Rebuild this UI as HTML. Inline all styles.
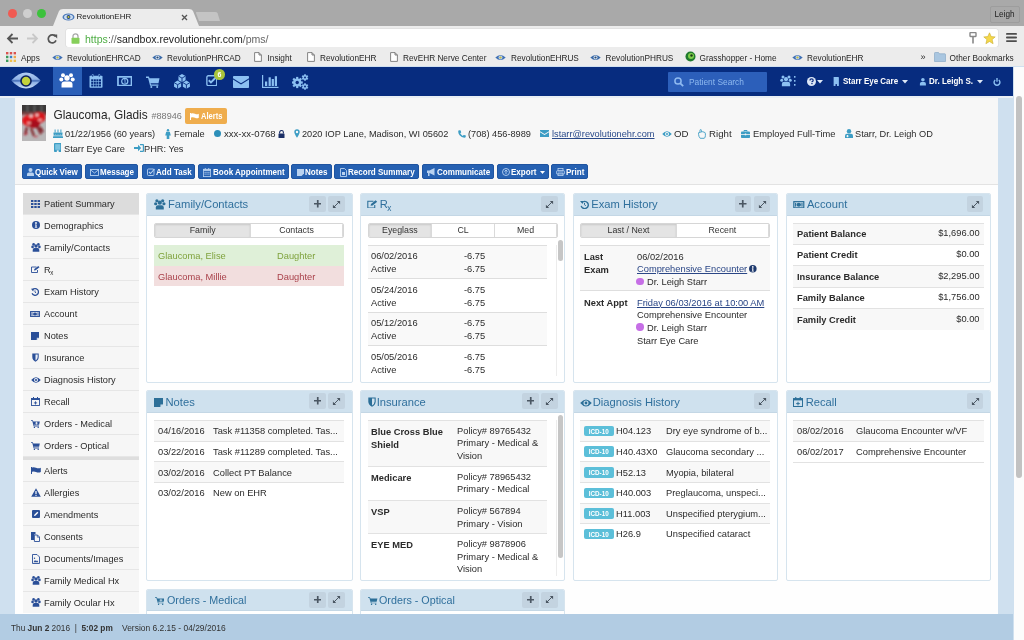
<!DOCTYPE html>
<html><head><meta charset="utf-8">
<style>
body{-webkit-font-smoothing:antialiased}
html{filter:grayscale(0)}
*{box-sizing:border-box;margin:0;padding:0}
html,body{width:1024px;height:640px;overflow:hidden;background:#cfe0ef;font-family:"Liberation Sans",sans-serif;color:#333;position:relative}
.abs{position:absolute}
.hl{font-size:9.8px;color:#2b2b2b;white-space:nowrap;transform:scaleX(.94);transform-origin:0 0}
.btn{top:163.8px;height:15px;background:#2661b2;border:1px solid #1f54a0;border-radius:2px}
.btn span{position:absolute;top:2.2px;font-size:9.1px;font-weight:bold;color:#fff;white-space:nowrap;transform:scaleX(.885);transform-origin:0 0}
.bm{position:absolute;top:6.5px;font-size:8.25px;color:#262626;white-space:nowrap}
/* browser chrome */
#tabbar{left:0;top:0;width:1024px;height:26px;background:#a9a9a9}
#toolbar{left:0;top:26px;width:1024px;height:21px;background:#ececec}
#bookmarks{left:0;top:47px;width:1024px;height:20px;background:#ececec;border-bottom:1px solid #d0e0f0}
#nav{left:0;top:67px;width:1013px;height:28.5px;background:#072c7f}
.nvt{top:8.6px;font-size:9.2px;font-weight:bold;color:#fff;white-space:nowrap;transform:scaleX(.87);transform-origin:0 0}
#sb{left:1014px;top:67px;width:10px;height:573px;background:#fcfcfc}
#sbthumb{left:1016px;top:96px;width:6px;height:382px;background:#c2c2c2;border-radius:3px}
#page{left:15px;top:97px;width:982.5px;height:517px;background:#fefefe}
#phead{left:15px;top:97.7px;width:982.5px;height:87.3px;background:#f7f7f7;border-bottom:1px solid #e3e3e3}
#footer{left:0;top:613.5px;width:1013px;height:27px;background:#b2cce3}
.panel{position:absolute;background:#fff;border:1px solid #d6e4ee;border-radius:2px;overflow:hidden}
.ph{position:absolute;left:0;top:0;right:0;height:21.5px;background:#cfe1ee;border-bottom:1px solid #c4d7e5}
.pt{position:absolute;left:22px;top:5px;font-size:11.2px;color:#2f6f9c;white-space:nowrap}
.pbtn{position:absolute;top:3px;width:16px;height:16px;background:#bcd0df;border-radius:2px}
.sidebar{left:22.5px;top:193px;width:116px;height:420px;background:#f6f6f6;border-radius:0;overflow:hidden}
.si{position:absolute;left:0;width:116px;height:22px;border-bottom:1px solid #e6e6e6;font-size:9.25px;color:#2b2b2b}
.si span{position:absolute;left:21.5px;top:5.3px;white-space:nowrap;font-size:9.8px;transform:scaleX(.94);transform-origin:0 0}
.si sub{font-size:6.5px;vertical-align:-2px;margin-left:-0.3px}

.hb{position:absolute;width:16.5px;height:16px;background:#c3d3e0;border-radius:2px}
.tabs{position:absolute;height:15px;background:#fff;border:1px solid #d6d6d6;border-radius:2px;overflow:hidden}
.tab{position:absolute;top:0;height:13px;text-align:center;font-size:8.8px;color:#333;line-height:13px;border-right:1px solid #dadada}
.tab.act{background:#e4e4e4;box-shadow:inset 0 1px 2px rgba(0,0,0,.12)}
.tx{font-size:9.8px;color:#2b2b2b;white-space:nowrap;transform:scaleX(.95);transform-origin:0 0;margin-top:-1.1px}
.tx.r{transform-origin:100% 0}
.b{font-weight:bold}
.lk{color:#2a4686;text-decoration:underline}
.icd{width:29.5px;height:10.5px;background:#5cbfd9;border-radius:2px;color:#fff;font-size:6.3px;font-weight:bold;text-align:center;line-height:11.5px}
</style></head><body>

<div id="tabbar" class="abs">
  <div class="abs" style="left:8px;top:9px;width:9px;height:9px;border-radius:50%;background:#f05a52"></div>
  <div class="abs" style="left:22.5px;top:9px;width:9px;height:9px;border-radius:50%;background:#cfcfcf"></div>
  <div class="abs" style="left:36.5px;top:9px;width:9px;height:9px;border-radius:50%;background:#3cc23c"></div>
  <svg class="abs" style="left:0;top:0" width="240" height="26">
    <path d="M53 26 L59 11 Q60 9 63 9 L189 9 Q192 9 193 11 L199 26 Z" fill="#ececec"/>
    <path d="M199 21 L196 13 Q195.5 12 197 12 L215 12 Q217 12 217.5 13 L220 21 Z" fill="#c4c4c4"/>
  </svg>
  <svg class="abs" style="left:62px;top:13px" width="13" height="8" viewBox="0 0 13 8"><ellipse cx="6.5" cy="4" rx="6" ry="3.6" fill="#4a78b8"/><ellipse cx="6.5" cy="4" rx="4.5" ry="2.6" fill="#c9dcf2"/><circle cx="6.5" cy="4" r="1.9" fill="#1e3d7a"/><circle cx="6.5" cy="4" r="1.1" fill="#c8c838"/></svg>
  <div class="abs" style="left:76.5px;top:12px;font-size:8px;color:#222;white-space:nowrap">RevolutionEHR</div>
  <svg class="abs" style="left:181px;top:14px" width="7" height="7" viewBox="0 0 7 7"><path d="M1 1L6 6M6 1L1 6" stroke="#555" stroke-width="1.3"/></svg>
  <div class="abs" style="left:990px;top:5.5px;width:30px;height:17px;border:1px solid #9d9d9d;border-radius:2px;background:#a9a9a9"></div>
  <div class="abs" style="left:994.5px;top:9.8px;font-size:8.2px;color:#222">Leigh</div>
</div>
<div id="toolbar" class="abs">
  <svg class="abs" style="left:6px;top:7px" width="13" height="11" viewBox="0 0 13 11"><path d="M12 5.5H2M6.5 1L2 5.5L6.5 10" stroke="#555" stroke-width="1.8" fill="none"/></svg>
  <svg class="abs" style="left:26px;top:7px" width="13" height="11" viewBox="0 0 13 11"><path d="M1 5.5H11M6.5 1L11 5.5L6.5 10" stroke="#c8c8c8" stroke-width="1.8" fill="none"/></svg>
  <svg class="abs" style="left:47px;top:7.5px" width="11" height="10" viewBox="0 0 11 10"><path d="M8.6 2.6A4 4 0 1 0 9 6.4" stroke="#555" stroke-width="1.7" fill="none"/><path d="M6.2 0.5L10.2 0.5L10.2 4.5Z" fill="#555"/></svg>
  <div class="abs" style="left:66px;top:2.5px;width:932px;height:18px;background:#fff;border-radius:2px;box-shadow:0 0 0 0.5px #d8d8d8"></div>
  <svg class="abs" style="left:70.5px;top:6.5px" width="9" height="11" viewBox="0 0 9 11"><path d="M2 5V3.3A2.5 2.5 0 0 1 7 3.3V5" stroke="#a8a8a8" stroke-width="1.3" fill="none"/><rect x="0.5" y="4.8" width="8" height="6" rx="0.8" fill="#86cf5a"/></svg>
  <div class="abs" style="left:85px;top:6.5px;font-size:10.55px;color:#666;white-space:nowrap"><span style="color:#4fae45">https</span>://<span style="color:#222">sandbox.revolutionehr.com</span>/pms/</div>
  <svg class="abs" style="left:969px;top:6px" width="8" height="12" viewBox="0 0 8 12"><rect x="1" y="0.5" width="6" height="4" rx="0.8" fill="none" stroke="#888" stroke-width="1.4"/><rect x="3.2" y="4" width="1.6" height="7.5" fill="#888"/></svg>
  <svg class="abs" style="left:982.5px;top:5.5px" width="13" height="13" viewBox="0 0 13 13"><path d="M6.5 0.8L8.2 4.6L12.2 4.9L9.1 7.6L10.1 11.7L6.5 9.5L2.9 11.7L3.9 7.6L0.8 4.9L4.8 4.6Z" fill="#f5d84a" stroke="#c9ad2e" stroke-width="0.6"/></svg>
  <svg class="abs" style="left:1006px;top:7px" width="11" height="9" viewBox="0 0 11 9"><rect x="0" y="0" width="11" height="1.8" rx="0.9" fill="#4d4d4d"/><rect x="0" y="3.6" width="11" height="1.8" rx="0.9" fill="#4d4d4d"/><rect x="0" y="7.2" width="11" height="1.8" rx="0.9" fill="#4d4d4d"/></svg>
</div>
<div id="bookmarks" class="abs">
  <svg class="abs" style="left:6px;top:5px" width="10" height="10" viewBox="0 0 10 10">
    <rect x="0" y="0" width="2.4" height="2.4" fill="#d9534f"/><rect x="3.8" y="0" width="2.4" height="2.4" fill="#d9534f"/><rect x="7.6" y="0" width="2.4" height="2.4" fill="#d9534f"/>
    <rect x="0" y="3.8" width="2.4" height="2.4" fill="#3b9a5a"/><rect x="3.8" y="3.8" width="2.4" height="2.4" fill="#3b82c4"/><rect x="7.6" y="3.8" width="2.4" height="2.4" fill="#f0a848"/>
    <rect x="0" y="7.6" width="2.4" height="2.4" fill="#3b9a5a"/><rect x="3.8" y="7.6" width="2.4" height="2.4" fill="#f0c050"/><rect x="7.6" y="7.6" width="2.4" height="2.4" fill="#f0c050"/>
  </svg>
  <div class="bm" style="left:21px">Apps</div>
  <svg class="abs eyeb" style="left:52px;top:7.2px" width="11" height="7" viewBox="0 0 11 7"><path d="M0.3 3.5Q5.5 -1.5 10.7 3.5Q5.5 8.5 0.3 3.5Z" fill="#3f70b4"/><circle cx="5.5" cy="3.5" r="2" fill="#bfd0e8"/><circle cx="5.5" cy="3.5" r="1.1" fill="#c4be3a"/></svg>
  <div class="bm" style="left:67px">RevolutionEHRCAD</div>
  <svg class="abs" style="left:152px;top:7.2px" width="11" height="7" viewBox="0 0 11 7"><path d="M0.3 3.5Q5.5 -1.5 10.7 3.5Q5.5 8.5 0.3 3.5Z" fill="#3a6aa8"/><circle cx="5.5" cy="3.5" r="2" fill="#d9e4f0"/><circle cx="5.5" cy="3.5" r="1.1" fill="#2a4a70"/></svg>
  <div class="bm" style="left:167px">RevolutionPHRCAD</div>
  <svg class="abs" style="left:254px;top:5.2px" width="8" height="10" viewBox="0 0 8 10"><path d="M0.6 0.6H5L7.4 3V9.4H0.6Z M5 0.6V3H7.4" fill="#fff" stroke="#777" stroke-width="0.9"/></svg>
  <div class="bm" style="left:267.5px">Insight</div>
  <svg class="abs" style="left:306.5px;top:5.2px" width="8" height="10" viewBox="0 0 8 10"><path d="M0.6 0.6H5L7.4 3V9.4H0.6Z M5 0.6V3H7.4" fill="#fff" stroke="#777" stroke-width="0.9"/></svg>
  <div class="bm" style="left:320px">RevolutionEHR</div>
  <svg class="abs" style="left:390px;top:5.2px" width="8" height="10" viewBox="0 0 8 10"><path d="M0.6 0.6H5L7.4 3V9.4H0.6Z M5 0.6V3H7.4" fill="#fff" stroke="#777" stroke-width="0.9"/></svg>
  <div class="bm" style="left:403px">RevEHR Nerve Center</div>
  <svg class="abs" style="left:495px;top:7.2px" width="11" height="7" viewBox="0 0 11 7"><path d="M0.3 3.5Q5.5 -1.5 10.7 3.5Q5.5 8.5 0.3 3.5Z" fill="#3f70b4"/><circle cx="5.5" cy="3.5" r="2" fill="#bfd0e8"/><circle cx="5.5" cy="3.5" r="1.1" fill="#c4be3a"/></svg>
  <div class="bm" style="left:511px">RevolutionEHRUS</div>
  <svg class="abs" style="left:590px;top:7.2px" width="11" height="7" viewBox="0 0 11 7"><path d="M0.3 3.5Q5.5 -1.5 10.7 3.5Q5.5 8.5 0.3 3.5Z" fill="#3a6aa8"/><circle cx="5.5" cy="3.5" r="2" fill="#d9e4f0"/><circle cx="5.5" cy="3.5" r="1.1" fill="#2a4a70"/></svg>
  <div class="bm" style="left:605.5px">RevolutionPHRUS</div>
  <svg class="abs" style="left:684.5px;top:4px" width="11" height="11" viewBox="0 0 11 11"><circle cx="5.5" cy="5.5" r="5" fill="#1f7a2e"/><circle cx="6" cy="5" r="3" fill="#7fd04a"/><circle cx="6.5" cy="4.5" r="1.2" fill="#1a3a1a"/></svg>
  <div class="bm" style="left:699.5px">Grasshopper - Home</div>
  <svg class="abs" style="left:792px;top:7.2px" width="11" height="7" viewBox="0 0 11 7"><path d="M0.3 3.5Q5.5 -1.5 10.7 3.5Q5.5 8.5 0.3 3.5Z" fill="#3f70b4"/><circle cx="5.5" cy="3.5" r="2" fill="#bfd0e8"/><circle cx="5.5" cy="3.5" r="1.1" fill="#c4be3a"/></svg>
  <div class="bm" style="left:807px">RevolutionEHR</div>
  <div class="bm" style="left:920.5px;top:5px;font-size:9px">&raquo;</div>
  <svg class="abs" style="left:933.5px;top:4.5px" width="12" height="10" viewBox="0 0 12 10"><path d="M0.5 1.2Q0.5 0.5 1.2 0.5H4.5L5.5 1.8H10.8Q11.5 1.8 11.5 2.5V9.5H0.5Z" fill="#a9c6e0" stroke="#8aa9c6" stroke-width="0.7"/></svg>
  <div class="bm" style="left:949.5px">Other Bookmarks</div>
</div>

<div id="nav" class="abs">
  <div class="abs" style="left:53px;top:0;width:29px;height:28px;background:#2a5fb8"></div>
  <svg class="abs" style="left:11px;top:5px" width="30" height="17" viewBox="0 0 30 17">
    <defs><linearGradient id="eg" x1="0" y1="0" x2="0" y2="1"><stop offset="0" stop-color="#b4cff4"/><stop offset="0.42" stop-color="#8fb2e6"/><stop offset="0.52" stop-color="#3f68b4"/><stop offset="0.62" stop-color="#8fb2e6"/><stop offset="1" stop-color="#c8dcf8"/></linearGradient></defs>
    <path d="M0.3 8.5Q15 -7.5 29.7 8.5Q15 24.5 0.3 8.5Z" fill="url(#eg)"/>
    <circle cx="15" cy="9" r="5.8" fill="#0a1f5c"/>
    <circle cx="15" cy="9" r="4.2" fill="#c3d23c"/>
  </svg>
  <svg class="abs" style="left:59px;top:6px" width="16" height="15" viewBox="0 0 16 15" fill="#fff">
    <circle cx="4" cy="2.3" r="2"/><circle cx="12" cy="2.3" r="2"/><circle cx="2.3" cy="6.5" r="2"/><circle cx="13.7" cy="6.5" r="2"/>
    <circle cx="8" cy="5" r="2.7"/><path d="M2.5 14.5V11.5Q2.5 8.5 5.5 8.5H10.5Q13.5 8.5 13.5 11.5V14.5Z"/>
  </svg>
  <svg class="abs" style="left:89px;top:7px" width="14" height="14" viewBox="0 0 14 14"><rect x="0.5" y="1.8" width="13" height="12" rx="0.8" fill="#8cc0f2"/><rect x="1.6" y="4.3" width="10.8" height="8.3" fill="#8cc0f2"/><rect x="2.20" y="5.30" width="2" height="2" fill="#072c7f"/><rect x="4.80" y="5.30" width="2" height="2" fill="#072c7f"/><rect x="7.40" y="5.30" width="2" height="2" fill="#072c7f"/><rect x="10.00" y="5.30" width="2" height="2" fill="#072c7f"/><rect x="2.20" y="7.90" width="2" height="2" fill="#072c7f"/><rect x="4.80" y="7.90" width="2" height="2" fill="#072c7f"/><rect x="7.40" y="7.90" width="2" height="2" fill="#072c7f"/><rect x="10.00" y="7.90" width="2" height="2" fill="#072c7f"/><rect x="2.20" y="10.50" width="2" height="2" fill="#072c7f"/><rect x="4.80" y="10.50" width="2" height="2" fill="#072c7f"/><rect x="7.40" y="10.50" width="2" height="2" fill="#072c7f"/><rect x="10.00" y="10.50" width="2" height="2" fill="#072c7f"/><rect x="2.8" y="0" width="1.8" height="3.4" rx="0.9" fill="#8cc0f2"/><rect x="9.4" y="0" width="1.8" height="3.4" rx="0.9" fill="#8cc0f2"/><rect x="3.2" y="0.6" width="1" height="2" fill="#072c7f"/><rect x="9.8" y="0.6" width="1" height="2" fill="#072c7f"/></svg>
  <svg class="abs" style="left:116.5px;top:8.6px" width="15.5" height="10.5" viewBox="0 0 16 11"><rect x="0.9" y="0.9" width="14.2" height="9.2" fill="none" stroke="#8cc0f2" stroke-width="1.8"/><ellipse cx="8" cy="5.5" rx="3.2" ry="3.1" fill="none" stroke="#8cc0f2" stroke-width="1.3"/><path d="M7.4 4.2L8.3 3.6V7.4" fill="none" stroke="#8cc0f2" stroke-width="0.9"/></svg>
  <svg class="abs" style="left:146px;top:8.5px" width="14" height="12" viewBox="0 0 14 12" fill="#8cc0f2">
    <path d="M0 0.5H2.8L3.6 2.2H13.5L12.5 7.3H4.6L5 8.5H12.4V9.7H4.1L2.1 1.9H0Z"/><circle cx="5.3" cy="11" r="1"/><circle cx="11.2" cy="11" r="1"/>
  </svg>
  <svg class="abs" style="left:173px;top:7px" width="18" height="15" viewBox="0 0 18 15"><path d="M9.00 0.00 L5.45 2.05 L5.45 6.15 L9.00 8.20 L12.55 6.15 L12.55 2.05Z" fill="#8cc0f2"/><path d="M9.00 4.10 L9.00 8.20 M9.00 4.10 L5.45 2.05 M9.00 4.10 L12.55 2.05" stroke="#072c7f" stroke-width="0.9" fill="none"/><path d="M4.60 6.60 L1.05 8.65 L1.05 12.75 L4.60 14.80 L8.15 12.75 L8.15 8.65Z" fill="#8cc0f2"/><path d="M4.60 10.70 L4.60 14.80 M4.60 10.70 L1.05 8.65 M4.60 10.70 L8.15 8.65" stroke="#072c7f" stroke-width="0.9" fill="none"/><path d="M13.40 6.60 L9.85 8.65 L9.85 12.75 L13.40 14.80 L16.95 12.75 L16.95 8.65Z" fill="#8cc0f2"/><path d="M13.40 10.70 L13.40 14.80 M13.40 10.70 L9.85 8.65 M13.40 10.70 L16.95 8.65" stroke="#072c7f" stroke-width="0.9" fill="none"/></svg>
  <svg class="abs" style="left:205.8px;top:7.6px" width="11.6" height="11.4" viewBox="0 0 12 12">
    <rect x="0.8" y="0.8" width="10.4" height="10.4" rx="1.5" fill="none" stroke="#8cc0f2" stroke-width="1.4"/>
    <path d="M2.8 5.5L5.1 7.8L10.5 2.4" fill="none" stroke="#8cc0f2" stroke-width="2"/>
  </svg>
  <div class="abs" style="left:214.2px;top:2px;width:10.6px;height:10.6px;border-radius:50%;background:#a9c43c"></div>
  <div class="abs" style="left:214.2px;top:3.5px;width:10.6px;text-align:center;font-size:7px;font-weight:bold;color:#fff">6</div>
  <svg class="abs" style="left:233px;top:8.5px" width="16" height="12" viewBox="0 0 16 12" fill="#8cc0f2">
    <path d="M0 0.8Q0 0 0.8 0H15.2Q16 0 16 0.8V2.2L8 7.2L0 2.2Z"/><path d="M0 3.6L8 8.6L16 3.6V11.2Q16 12 15.2 12H0.8Q0 12 0 11.2Z"/>
  </svg>
  <svg class="abs" style="left:262px;top:7.5px" width="17" height="13" viewBox="0 0 17 13" fill="#8cc0f2">
    <rect x="0" y="0" width="1.2" height="13"/><rect x="0" y="11.8" width="16.5" height="1.2"/>
    <rect x="3" y="6.5" width="2.2" height="4.5"/><rect x="6.6" y="2.3" width="2.2" height="8.7"/><rect x="9.7" y="4" width="2.2" height="7"/><rect x="12.8" y="1.2" width="2.2" height="9.8"/>
  </svg>
  <svg class="abs" style="left:292px;top:6.5px" width="17" height="16" viewBox="0 0 17 16" fill="#8cc0f2">
    <g transform="translate(5.2,8.5)"><circle r="4.1"/><g><rect x="-1.1" y="-5.6" width="2.2" height="11.2"/><rect x="-1.1" y="-5.6" width="2.2" height="11.2" transform="rotate(45)"/><rect x="-1.1" y="-5.6" width="2.2" height="11.2" transform="rotate(90)"/><rect x="-1.1" y="-5.6" width="2.2" height="11.2" transform="rotate(135)"/></g><circle r="1.7" fill="#0b2b80"/></g>
    <g transform="translate(13,3.5)"><circle r="2.5"/><rect x="-0.7" y="-3.4" width="1.4" height="6.8"/><rect x="-0.7" y="-3.4" width="1.4" height="6.8" transform="rotate(60)"/><rect x="-0.7" y="-3.4" width="1.4" height="6.8" transform="rotate(120)"/><circle r="1" fill="#0b2b80"/></g>
    <g transform="translate(13,12.5)"><circle r="2.5"/><rect x="-0.7" y="-3.4" width="1.4" height="6.8"/><rect x="-0.7" y="-3.4" width="1.4" height="6.8" transform="rotate(60)"/><rect x="-0.7" y="-3.4" width="1.4" height="6.8" transform="rotate(120)"/><circle r="1" fill="#0b2b80"/></g>
  </svg>

  <div class="abs" style="left:668px;top:5px;width:99px;height:19.8px;background:#2c5fba;border-radius:1px"></div>
  <svg class="abs" style="left:674px;top:10px" width="10" height="10" viewBox="0 0 10 10"><circle cx="4" cy="4" r="3.1" fill="none" stroke="#8fbaf0" stroke-width="1.5"/><path d="M6.3 6.3L9.2 9.2" stroke="#8fbaf0" stroke-width="1.8"/></svg>
  <div class="abs" style="left:689px;top:9.8px;font-size:8.4px;color:#8fbaf0;white-space:nowrap">Patient Search</div>
  <svg class="abs" style="left:779.5px;top:8px" width="12" height="12" viewBox="0 0 16 15" fill="#8cc0f2">
    <circle cx="4" cy="2.3" r="2"/><circle cx="12" cy="2.3" r="2"/><circle cx="2.3" cy="6.5" r="2"/><circle cx="13.7" cy="6.5" r="2"/>
    <circle cx="8" cy="5" r="2.7"/><path d="M2.5 14.5V11.5Q2.5 8.5 5.5 8.5H10.5Q13.5 8.5 13.5 11.5V14.5Z"/>
  </svg>
  <svg class="abs" style="left:794px;top:9px" width="2" height="10" viewBox="0 0 2 10" fill="#8cc0f2"><rect y="0" width="1.5" height="1.7"/><rect y="4" width="1.5" height="1.7"/><rect y="8" width="1.5" height="1.7"/></svg>
  <svg class="abs" style="left:807px;top:9.5px" width="9" height="9" viewBox="0 0 9 9"><circle cx="4.5" cy="4.5" r="4.5" fill="#dde8f7"/><path d="M3 3.4Q3 1.8 4.6 1.8Q6.2 1.8 6.2 3.2Q6.2 4.1 5.1 4.6V5.3" fill="none" stroke="#0b2b80" stroke-width="1.2"/><rect x="4.3" y="6" width="1.3" height="1.2" fill="#0b2b80"/></svg>
  <svg class="abs" style="left:817px;top:13px" width="6" height="4" viewBox="0 0 6 4"><path d="M0 0H6L3 3.5Z" fill="#dde8f7"/></svg>
  <svg class="abs" style="left:833px;top:10px" width="6.5" height="9" viewBox="0 0 7 12"><rect x="0" y="0" width="7" height="12" rx="0.5" fill="#8cc0f2"/><rect x="2.5" y="9.5" width="2" height="2.5" fill="#0b2b80"/></svg>
  <div class="abs nvt" style="left:843px">Starr Eye Care</div>
  <svg class="abs" style="left:902px;top:13px" width="6" height="4" viewBox="0 0 6 4"><path d="M0 0H6L3 3.5Z" fill="#dde8f7"/></svg>
  <svg class="abs" style="left:918.6px;top:11px" width="7.8" height="7.5" viewBox="0 0 8 10" fill="#8cc0f2"><circle cx="4" cy="2.4" r="2.4"/><path d="M0 10V7.5Q0 5.3 2.2 5.3H5.8Q8 5.3 8 7.5V10Z"/></svg>
  <div class="abs nvt" style="left:928.5px">Dr. Leigh S.</div>
  <svg class="abs" style="left:977px;top:13px" width="6" height="4" viewBox="0 0 6 4"><path d="M0 0H6L3 3.5Z" fill="#dde8f7"/></svg>
  <svg class="abs" style="left:993px;top:11.2px" width="8" height="7.5" viewBox="0 0 10 10"><path d="M2.6 2.6A3.9 3.9 0 1 0 7.4 2.6" fill="none" stroke="#8cc0f2" stroke-width="1.9"/><rect x="4.1" y="0" width="1.8" height="5" fill="#8cc0f2"/></svg>
</div>
<div id="page" class="abs"></div>
<div class="abs" style="left:0;top:95.5px;width:1013px;height:2.2px;background:#e9eff5"></div>

<div id="phead" class="abs"></div>
<div class="abs" style="left:22px;top:105px;width:23.5px;height:35.5px;overflow:hidden;background:#b9b7b8">
  <svg width="23.5" height="35.5" viewBox="0 0 23.5 35.5" style="display:block">
    <defs><filter id="bl" x="-20%" y="-20%" width="140%" height="140%"><feGaussianBlur stdDeviation="1"/></filter></defs>
    <g filter="url(#bl)">
    <rect x="-2" y="-2" width="28" height="10" fill="#3a3838"/>
    <rect x="5" y="0" width="1" height="8" fill="#6a6a6a"/><rect x="12" y="0" width="1" height="8" fill="#6a6a6a"/><rect x="19" y="0" width="1" height="8" fill="#6a6a6a"/>
    <rect x="-2" y="7" width="28" height="3" fill="#7a4040"/>
    <ellipse cx="7" cy="15.5" rx="7" ry="5.5" fill="#e0141a"/>
    <ellipse cx="17" cy="12.5" rx="6.5" ry="5.5" fill="#d8161c"/>
    <ellipse cx="12" cy="19" rx="6" ry="4" fill="#a8101a"/>
    <circle cx="9" cy="11" r="1.8" fill="#f2c8c8"/><circle cx="15" cy="10" r="1.6" fill="#f0d0d0"/>
    <ellipse cx="7" cy="18" rx="2" ry="1.2" fill="#f4a0a0"/><ellipse cx="18" cy="15" rx="2" ry="1.2" fill="#f4a0a0"/>
    <path d="M5 22L3 30M9 23L12 31M15 21L19 29M18 22L21 27" stroke="#7a1016" stroke-width="2"/>
    <path d="M2 30L6 28M12 32L16 31" stroke="#c03040" stroke-width="1.2"/>
    </g>
  </svg>
</div>
<div class="abs" style="left:53.5px;top:108.2px;font-size:11.85px;color:#262626;white-space:nowrap">Glaucoma, Gladis</div>
<div class="abs" style="left:151.5px;top:111.3px;font-size:9.1px;color:#777;white-space:nowrap">#88946</div>
<div class="abs" style="left:185px;top:108px;width:42px;height:15.5px;background:#efad4d;border-radius:2px"></div>
<svg class="abs" style="left:189.5px;top:112.5px" width="9" height="7" viewBox="0 0 9 7"><path d="M0.5 0V7" stroke="#fff" stroke-width="1"/><path d="M1 0.5Q3 -0.3 5 0.8Q7 1.8 8.8 0.8V4.8Q7 5.8 5 4.8Q3 3.8 1 4.6Z" fill="#fff"/></svg>
<div class="abs" style="left:200.5px;top:111.2px;font-size:8.7px;font-weight:bold;color:#fff;transform:scaleX(.87);transform-origin:0 0">Alerts</div>

<div class="abs hl" style="left:65px;top:128px">01/22/1956 (60 years)</div>
<svg class="abs" style="left:53px;top:128.5px" width="10" height="9" viewBox="0 0 10 9" fill="#3d9dc4"><rect x="1.6" y="0.5" width="1" height="3"/><rect x="4.5" y="0.5" width="1" height="3"/><rect x="7.4" y="0.5" width="1" height="3"/><path d="M0.5 3.5H9.5V5.5Q8.5 6.5 7.3 5.5Q6 6.5 5 5.5Q4 6.5 2.7 5.5Q1.5 6.5 0.5 5.5Z"/><rect x="0" y="7.5" width="10" height="1.5"/><rect x="0.5" y="6.4" width="9" height="1.2"/></svg>
<svg class="abs" style="left:165px;top:128.5px" width="6" height="10" viewBox="0 0 6 10" fill="#3d9dc4"><circle cx="3" cy="1.2" r="1.2"/><path d="M1.2 2.8H4.8L5.8 6.5H4.3V10H1.7V6.5H0.2Z"/></svg>
<div class="abs hl" style="left:174px;top:128px">Female</div>
<div class="abs" style="left:213.6px;top:129.7px;width:7.4px;height:7.4px;border-radius:50%;background:#2c8fb9"></div>
<div class="abs hl" style="left:224px;top:128px;transform:scaleX(.977)">xxx-xx-0768</div>
<svg class="abs" style="left:278px;top:129.5px" width="7" height="8" viewBox="0 0 7 8"><path d="M1.6 3.6V2.4A1.9 1.9 0 0 1 5.4 2.4V3.6" stroke="#1b2f66" stroke-width="1.1" fill="none"/><rect x="0.5" y="3.5" width="6" height="4.5" rx="0.5" fill="#1b2f66"/></svg>
<svg class="abs" style="left:293.5px;top:128.5px" width="6" height="9" viewBox="0 0 6 9"><path d="M3 0.3A2.7 2.7 0 0 1 5.7 3Q5.7 4.8 3 8.8Q0.3 4.8 0.3 3A2.7 2.7 0 0 1 3 0.3Z M3 1.8A1.2 1.2 0 1 0 3 4.2A1.2 1.2 0 1 0 3 1.8Z" fill="#3d9dc4" fill-rule="evenodd"/></svg>
<div class="abs hl" style="left:301.7px;top:128px">2020 IOP Lane, Madison, WI 05602</div>
<svg class="abs" style="left:458px;top:129.5px" width="8" height="8" viewBox="0 0 8 8"><path d="M1.2 0.3L2.7 0.6L3.2 2.5L2.2 3.3Q3.2 5 4.8 5.9L5.6 4.9L7.6 5.3L7.8 6.8Q7.5 7.8 6.4 7.8Q3.5 7.5 1.6 5.2Q0.2 3.3 0.2 1.4Q0.3 0.4 1.2 0.3Z" fill="#3d9dc4"/></svg>
<div class="abs hl" style="left:468px;top:128px">(708) 456-8989</div>
<svg class="abs" style="left:540px;top:130px" width="9" height="7" viewBox="0 0 9 7" fill="#3d9dc4"><path d="M0 0H9V1.3L4.5 4L0 1.3Z"/><path d="M0 2.3L4.5 5L9 2.3V7H0Z"/></svg>
<div class="abs hl" style="left:551.9px;top:128px;color:#2a4a8a;text-decoration:underline">lstarr@revolutionehr.com</div>
<svg class="abs" style="left:662px;top:130.5px" width="10" height="6" viewBox="0 0 10 6"><path d="M0.2 3Q5 -2.5 9.8 3Q5 8.5 0.2 3Z M5 1A2 2 0 1 0 5 5A2 2 0 1 0 5 1Z" fill="#3d9dc4" fill-rule="evenodd"/><circle cx="5" cy="3" r="1" fill="#3d9dc4"/></svg>
<div class="abs hl" style="left:674px;top:128px;transform:scaleX(.99)">OD</div>
<svg class="abs" style="left:698px;top:128.5px" width="8" height="10" viewBox="0 0 8 10"><path d="M2.2 9.3Q0.6 7.5 0.6 5.5V4Q0.6 3.3 1.3 3.3Q2 3.3 2 4V1.3Q2 0.6 2.7 0.6Q3.4 0.6 3.4 1.3V3.2Q3.6 2.6 4.2 2.6Q4.8 2.6 5 3.3Q5.3 2.8 5.9 2.9Q6.5 3 6.6 3.7Q7.4 3.5 7.4 4.5V6.5Q7.4 8.2 6.3 9.3Z" fill="none" stroke="#3d9dc4" stroke-width="0.9"/></svg>
<div class="abs hl" style="left:709px;top:128px;transform:scaleX(.988)">Right</div>
<svg class="abs" style="left:741px;top:129.5px" width="9" height="8" viewBox="0 0 9 8" fill="#3d9dc4"><path d="M3 1.5V0.5H6V1.5" stroke="#3d9dc4" stroke-width="1" fill="none"/><rect x="0" y="1.5" width="9" height="6.5" rx="0.8"/><rect x="0" y="4" width="9" height="0.8" fill="#f5f5f5"/><rect x="3.8" y="3.5" width="1.4" height="1.8" fill="#f5f5f5"/></svg>
<div class="abs hl" style="left:753px;top:128px;transform:scaleX(.95)">Employed Full-Time</div>
<svg class="abs" style="left:845px;top:128.5px" width="8" height="9" viewBox="0 0 8 9" fill="#3d9dc4"><circle cx="4" cy="2.2" r="2.2"/><path d="M0 9V6.8Q0 4.8 2 4.8H6Q8 4.8 8 6.8V9Z"/><rect x="2" y="6" width="1" height="2.2" fill="#f5f5f5"/><rect x="1.4" y="6.6" width="2.2" height="1" fill="#f5f5f5"/></svg>
<div class="abs hl" style="left:855px;top:128px">Starr, Dr. Leigh OD</div>

<svg class="abs" style="left:53.5px;top:143px" width="7.5" height="9" viewBox="0 0 7.5 9"><rect x="0" y="0" width="7.5" height="9" rx="0.8" fill="#3d9dc4"/><rect x="1.2" y="1.2" width="5.1" height="5.6" fill="#7cc3e0"/><rect x="2.8" y="7.4" width="1.9" height="1.6" fill="#f7f7f7"/></svg>
<div class="abs hl" style="left:64px;top:142.5px">Starr Eye Care</div>
<svg class="abs" style="left:133.5px;top:144px" width="10" height="8" viewBox="0 0 10 8" fill="#3d9dc4"><path d="M0 3H4V0.8L7.2 4L4 7.2V5H0Z"/><path d="M6 0H9Q10 0 10 1V7Q10 8 9 8H6V6.8H8.8V1.2H6Z"/></svg>
<div class="abs hl" style="left:144.2px;top:142.5px">PHR: Yes</div>

<div class="abs btn" style="left:22px;width:60px"><svg class="abs" style="left:4px;top:3.5px" width="7" height="8" viewBox="0 0 7 8" fill="#b9d2f0"><circle cx="3.5" cy="2" r="2"/><path d="M0 8V6.3Q0 4.5 1.8 4.5H5.2Q7 4.5 7 6.3V8Z"/></svg><span style="left:12.2px">Quick View</span></div>
<div class="abs btn" style="left:85px;width:53px"><svg class="abs" style="left:4.3px;top:4px" width="9" height="7" viewBox="0 0 9 7"><rect x="0.5" y="0.5" width="8" height="6" fill="none" stroke="#b9d2f0" stroke-width="0.9"/><path d="M0.5 0.8L4.5 4L8.5 0.8" fill="none" stroke="#b9d2f0" stroke-width="0.9"/></svg><span style="left:14.0px">Message</span></div>
<div class="abs btn" style="left:141.5px;width:53.5px"><svg class="abs" style="left:4.5px;top:3.5px" width="8" height="8" viewBox="0 0 8 8"><rect x="0.5" y="1" width="6.5" height="6.5" rx="1" fill="none" stroke="#b9d2f0" stroke-width="0.9"/><path d="M2 4L3.5 5.5L7.5 1" fill="none" stroke="#b9d2f0" stroke-width="1.1"/></svg><span style="left:13.2px">Add Task</span></div>
<div class="abs btn" style="left:198px;width:90.5px"><svg class="abs" style="left:4.4px;top:3px" width="8" height="9" viewBox="0 0 8 9"><rect x="0.4" y="1.3" width="7.2" height="7.3" fill="none" stroke="#b9d2f0" stroke-width="0.8"/><rect x="0.4" y="1.3" width="7.2" height="1.6" fill="#b9d2f0"/><g fill="#b9d2f0"><rect x="1.5" y="3.8" width="1.2" height="1"/><rect x="3.4" y="3.8" width="1.2" height="1"/><rect x="5.3" y="3.8" width="1.2" height="1"/><rect x="1.5" y="5.6" width="1.2" height="1"/><rect x="3.4" y="5.6" width="1.2" height="1"/><rect x="5.3" y="5.6" width="1.2" height="1"/></g><rect x="1.8" y="0" width="0.9" height="2" fill="#b9d2f0"/><rect x="5.3" y="0" width="0.9" height="2" fill="#b9d2f0"/></svg><span style="left:14.0px">Book Appointment</span></div>
<div class="abs btn" style="left:291px;width:41px"><svg class="abs" style="left:4.6px;top:4px" width="7" height="7" viewBox="0 0 7 7"><path d="M0 0H7V4.5L4.5 7H0Z" fill="#b9d2f0"/></svg><span style="left:13.4px">Notes</span></div>
<div class="abs btn" style="left:334.3px;width:85px"><svg class="abs" style="left:4.3px;top:3px" width="7" height="9" viewBox="0 0 7 9"><path d="M0.5 0.5H4.5L6.5 2.5V8.5H0.5Z" fill="none" stroke="#b9d2f0" stroke-width="0.9"/><rect x="2" y="4" width="3" height="3" fill="#b9d2f0"/></svg><span style="left:13.0px">Record Summary</span></div>
<div class="abs btn" style="left:422.2px;width:72.3px"><svg class="abs" style="left:3.5px;top:3.5px" width="9" height="8" viewBox="0 0 9 8" fill="#b9d2f0"><path d="M0 2.5H2.5L7.5 0V7.5L2.5 5H0Z"/><rect x="1" y="5" width="1.5" height="3"/></svg><span style="left:13.7px">Communicate</span></div>
<div class="abs btn" style="left:497px;width:51.6px"><svg class="abs" style="left:4.3px;top:3.5px" width="8" height="8" viewBox="0 0 8 8"><circle cx="4" cy="4" r="3.5" fill="none" stroke="#b9d2f0" stroke-width="0.9"/><path d="M4 6V2.3M2.5 3.6L4 2L5.5 3.6" fill="none" stroke="#b9d2f0" stroke-width="0.9"/></svg><span style="left:13.0px">Export</span><svg class="abs" style="left:42.4px;top:6.5px" width="5" height="3" viewBox="0 0 5 3"><path d="M0 0H5L2.5 3Z" fill="#fff"/></svg></div>
<div class="abs btn" style="left:551px;width:36.7px"><svg class="abs" style="left:4px;top:3.5px" width="9" height="8" viewBox="0 0 9 8"><rect x="2" y="0.4" width="5" height="2.5" fill="none" stroke="#b9d2f0" stroke-width="0.8"/><rect x="0.4" y="2.8" width="8.2" height="3.2" rx="0.8" fill="none" stroke="#b9d2f0" stroke-width="0.8"/><rect x="2" y="5" width="5" height="2.6" fill="none" stroke="#b9d2f0" stroke-width="0.8"/></svg><span style="left:13.8px">Print</span></div>
<div id="sb" class="abs"></div>
<div id="sbthumb" class="abs"></div>

<div class="abs sidebar">
<div class="si" style="top:0px;background:#dcdcdc"><svg class="abs" style="left:8.5px;top:6.5px" width="9" height="8" viewBox="0 0 9 8" fill="#2a4f98"><rect x="0" y="0" width="2.4" height="2"/><rect x="3.3" y="0" width="2.4" height="2"/><rect x="6.6" y="0" width="2.4" height="2"/><rect x="0" y="3" width="2.4" height="2"/><rect x="3.3" y="3" width="2.4" height="2"/><rect x="6.6" y="3" width="2.4" height="2"/><rect x="0" y="6" width="2.4" height="2"/><rect x="3.3" y="6" width="2.4" height="2"/><rect x="6.6" y="6" width="2.4" height="2"/></svg><span>Patient Summary</span></div>
<div class="si" style="top:22px"><svg class="abs" style="left:9px;top:6px" width="8" height="8" viewBox="0 0 8 8"><circle cx="4" cy="4" r="4" fill="#2a4f98"/><circle cx="4" cy="2" r="0.9" fill="#fff"/><path d="M3 3.4H4.6V6.2H5.2V6.8H2.8V6.2H3.4V4H3Z" fill="#fff"/></svg><span>Demographics</span></div>
<div class="si" style="top:44px"><svg class="abs" style="left:8.5px;top:5.5px" width="10" height="9" viewBox="0 0 16 15" fill="#2a4f98"><circle cx="4" cy="2.3" r="2.2"/><circle cx="12" cy="2.3" r="2.2"/><circle cx="2.3" cy="6.5" r="2.2"/><circle cx="13.7" cy="6.5" r="2.2"/><circle cx="8" cy="5" r="2.9"/><path d="M2.5 14.5V11.5Q2.5 8.5 5.5 8.5H10.5Q13.5 8.5 13.5 11.5V14.5Z"/></svg><span>Family/Contacts</span></div>
<div class="si" style="top:66px"><svg class="abs" style="left:8px;top:7px" width="9" height="7" viewBox="0 0 9 7"><path d="M5.5 1H0.5V6.5H6.5V4" fill="none" stroke="#2a4f98" stroke-width="0.9"/><path d="M3 4.5L3.4 3.1L7.3 0L8.5 1.2L4.6 4.3Z" fill="#2a4f98"/></svg><span>R<sub>x</sub></span></div>
<div class="si" style="top:88px"><svg class="abs" style="left:8.8px;top:6.5px" width="8" height="8" viewBox="0 0 8 8"><path d="M1.4 2.2A3.3 3.3 0 1 1 1.1 5.2" fill="none" stroke="#2a4f98" stroke-width="1.3"/><path d="M0 0.8L2.8 0.6L2.2 3.4Z" fill="#2a4f98"/><path d="M4 2.4V4.2L5.2 5" fill="none" stroke="#2a4f98" stroke-width="0.9"/></svg><span>Exam History</span></div>
<div class="si" style="top:110px"><svg class="abs" style="left:7.6px;top:7.5px" width="10" height="6" viewBox="0 0 10 6"><rect x="0.6" y="0.6" width="8.8" height="4.8" fill="none" stroke="#2a4f98" stroke-width="1.1"/><ellipse cx="5" cy="3" rx="2" ry="1.6" fill="#2a4f98"/><rect x="1.5" y="1.5" width="1" height="3" fill="#2a4f98"/><rect x="7.5" y="1.5" width="1" height="3" fill="#2a4f98"/></svg><span>Account</span></div>
<div class="si" style="top:132px"><svg class="abs" style="left:8.8px;top:6.5px" width="8" height="8" viewBox="0 0 8 8"><path d="M0 0H8V5.5L5.5 8H0Z" fill="#2a4f98"/><path d="M5.8 8V5.8H8" fill="#cfdcec"/></svg><span>Notes</span></div>
<div class="si" style="top:154px"><svg class="abs" style="left:9px;top:6px" width="7" height="9" viewBox="0 0 7 9"><path d="M0.3 0.5H6.7V4Q6.7 7 3.5 8.7Q0.3 7 0.3 4Z" fill="#2a4f98"/><path d="M3.5 1.5H5.7V4Q5.7 6.2 3.5 7.4Z" fill="#e8eef6"/></svg><span>Insurance</span></div>
<div class="si" style="top:176px"><svg class="abs" style="left:8px;top:7.5px" width="10" height="6" viewBox="0 0 10 6"><path d="M0.2 3Q5 -2.5 9.8 3Q5 8.5 0.2 3Z M5 1A2 2 0 1 0 5 5A2 2 0 1 0 5 1Z" fill="#2a4f98" fill-rule="evenodd"/><circle cx="5" cy="3" r="1.1" fill="#2a4f98"/></svg><span>Diagnosis History</span></div>
<div class="si" style="top:198px"><svg class="abs" style="left:8.5px;top:5.5px" width="9" height="9" viewBox="0 0 9 9"><rect x="0.5" y="1.5" width="8" height="7" fill="none" stroke="#2a4f98" stroke-width="0.9"/><rect x="0.5" y="1.5" width="8" height="1.5" fill="#2a4f98"/><rect x="2" y="0" width="1" height="2" fill="#2a4f98"/><rect x="6" y="0" width="1" height="2" fill="#2a4f98"/><path d="M4.5 4.3V7.5M2.9 5.9H6.1" stroke="#2a4f98" stroke-width="0.9"/></svg><span>Recall</span></div>
<div class="si" style="top:220px"><svg class="abs" style="left:8.5px;top:6.5px" width="9" height="8" viewBox="0 0 9 8" fill="#2a4f98"><path d="M0 0.3H1.8L2.3 1.5H8.8L8.1 4.8H3L3.3 5.6H8V6.4H2.7L1.3 1.1H0Z"/><circle cx="3.4" cy="7.4" r="0.7"/><circle cx="7.2" cy="7.4" r="0.7"/><path d="M5.5 1.8V4.5M4.2 3.1H6.8" stroke="#f6f6f6" stroke-width="0.8"/></svg><span>Orders - Medical</span></div>
<div class="si" style="top:242px"><svg class="abs" style="left:8.5px;top:6.5px" width="9" height="8" viewBox="0 0 9 8" fill="#2a4f98"><path d="M0 0.3H1.8L2.3 1.5H8.8L8.1 4.8H3L3.3 5.6H8V6.4H2.7L1.3 1.1H0Z"/><circle cx="3.4" cy="7.4" r="0.7"/><circle cx="7.2" cy="7.4" r="0.7"/></svg><span>Orders - Optical</span></div>
<div class="abs" style="left:0;top:264px;width:116px;height:3px;background:#dedede"></div>
<div class="si" style="top:267px"><svg class="abs" style="left:8.5px;top:6.5px" width="10" height="7" viewBox="0 0 10 7" fill="#2a4f98"><rect x="0" y="0" width="1" height="7"/><path d="M1 0.5Q3 -0.3 5 0.8Q7.5 1.8 9.8 0.8V5Q7.5 6 5 5Q3 4 1 4.8Z"/></svg><span>Alerts</span></div>
<div class="si" style="top:289px"><svg class="abs" style="left:8.3px;top:6px" width="10" height="9" viewBox="0 0 10 9"><path d="M5 0.3L9.8 8.7H0.2Z" fill="#2a4f98"/><rect x="4.4" y="3" width="1.2" height="3" fill="#fff"/><rect x="4.4" y="6.8" width="1.2" height="1.1" fill="#fff"/></svg><span>Allergies</span></div>
<div class="si" style="top:311px"><svg class="abs" style="left:9px;top:6px" width="8" height="8" viewBox="0 0 8 8"><rect x="0" y="0" width="8" height="8" rx="1" fill="#2a4f98"/><path d="M2 6L2.3 4.8L5.3 1.8L6.3 2.8L3.3 5.8Z" fill="#fff"/></svg><span>Amendments</span></div>
<div class="si" style="top:333px"><svg class="abs" style="left:8.5px;top:5.5px" width="9" height="10" viewBox="0 0 9 10"><path d="M0 0H4.5V2.5H3V8H0Z" fill="#2a4f98"/><path d="M3.4 3H6.5L8.5 5V9.5H3.4Z" fill="none" stroke="#2a4f98" stroke-width="0.9"/><path d="M6.3 3V5.2H8.5" fill="none" stroke="#2a4f98" stroke-width="0.7"/></svg><span>Consents</span></div>
<div class="si" style="top:355px"><svg class="abs" style="left:9px;top:5.5px" width="8" height="10" viewBox="0 0 8 10"><path d="M0.5 0.5H5L7.5 3V9.5H0.5Z" fill="none" stroke="#2a4f98" stroke-width="0.9"/><path d="M1.5 8.3L3 6L4.2 7.2L5 6.3L6.5 8.3Z" fill="#2a4f98"/><circle cx="2.5" cy="4.2" r="0.7" fill="#2a4f98"/></svg><span>Documents/Images</span></div>
<div class="si" style="top:377px"><svg class="abs" style="left:8.5px;top:5.5px" width="10" height="9" viewBox="0 0 16 15" fill="#2a4f98"><circle cx="4" cy="2.3" r="2.2"/><circle cx="12" cy="2.3" r="2.2"/><circle cx="2.3" cy="6.5" r="2.2"/><circle cx="13.7" cy="6.5" r="2.2"/><circle cx="8" cy="5" r="2.9"/><path d="M2.5 14.5V11.5Q2.5 8.5 5.5 8.5H10.5Q13.5 8.5 13.5 11.5V14.5Z"/></svg><span>Family Medical Hx</span></div>
<div class="si" style="top:399px"><svg class="abs" style="left:8.5px;top:5.5px" width="10" height="9" viewBox="0 0 16 15" fill="#2a4f98"><circle cx="4" cy="2.3" r="2.2"/><circle cx="12" cy="2.3" r="2.2"/><circle cx="2.3" cy="6.5" r="2.2"/><circle cx="13.7" cy="6.5" r="2.2"/><circle cx="8" cy="5" r="2.9"/><path d="M2.5 14.5V11.5Q2.5 8.5 5.5 8.5H10.5Q13.5 8.5 13.5 11.5V14.5Z"/></svg><span>Family Ocular Hx</span></div>
</div>

<div class="panel" style="left:146px;top:193px;width:206.5px;height:189.5px"><div class="ph"></div></div>
<svg class="abs" style="left:154.2px;top:198.8px" width="11.6" height="11" viewBox="0 0 16 15" fill="#2c6f98"><circle cx="4" cy="2.3" r="2.2"/><circle cx="12" cy="2.3" r="2.2"/><circle cx="2.3" cy="6.5" r="2.2"/><circle cx="13.7" cy="6.5" r="2.2"/><circle cx="8" cy="5" r="2.9"/><path d="M2.5 14.5V11.5Q2.5 8.5 5.5 8.5H10.5Q13.5 8.5 13.5 11.5V14.5Z"/></svg>
<div class="pt" style="left:168.0px;top:198.3px">Family/Contacts</div>
<div class="hb" style="left:309.0px;top:196px"><svg class="abs" style="left:4.5px;top:4.2px" width="7.5" height="7.5" viewBox="0 0 7.5 7.5"><path d="M3.75 0V7.5M0 3.75H7.5" stroke="#4b5763" stroke-width="1.7"/></svg></div>
<div class="hb" style="left:328.0px;top:196px"><svg class="abs" style="left:4px;top:3.5px" width="9" height="9" viewBox="0 0 9 9"><path d="M1.8 7.2L7.2 1.8" stroke="#4b5763" stroke-width="1"/><path d="M4.8 0.9H8.1V4.2Z M0.9 4.8V8.1H4.2Z" fill="#4b5763"/></svg></div>
<div class="tabs" style="left:154.3px;top:222.5px;width:189.5px"><div class="tab act" style="left:0;width:95.7px">Family</div><div class="tab" style="left:95.7px;width:92px">Contacts</div></div>
<div class="abs" style="left:154.3px;top:245.3px;width:189.5px;height:21px;background:#dff0d8"></div>
<div class="abs" style="left:154.3px;top:266.3px;width:189.5px;height:20.2px;background:#f2dede"></div>
<div class="abs tx" style="left:158.2px;top:251.2px;color:#7fa23c">Glaucoma, Elise</div><div class="abs tx" style="left:277px;top:251.2px;color:#7fa23c">Daughter</div>
<div class="abs tx" style="left:158.2px;top:272.1px;color:#a9414a">Glaucoma, Millie</div><div class="abs tx" style="left:277px;top:272.1px;color:#a9414a">Daughter</div>
<div class="panel" style="left:359.8px;top:193px;width:205.7px;height:189.5px"><div class="ph"></div></div>
<svg class="abs" style="left:367px;top:199.6px" width="11" height="8.8" viewBox="0 0 11 9"><path d="M6.5 1.2H0.7V8.3H7.8V5" fill="none" stroke="#2c6f98" stroke-width="1.1"/><path d="M3.5 6L4 4.2L8.6 0.2L10.3 1.8L5.6 5.6Z" fill="#2c6f98"/></svg>
<div class="pt" style="left:379.7px;top:198.3px">R<sub style="font-size:8.2px;vertical-align:-3px;margin-left:-0.6px">x</sub></div>
<div class="hb" style="left:541.0px;top:196px"><svg class="abs" style="left:4px;top:3.5px" width="9" height="9" viewBox="0 0 9 9"><path d="M1.8 7.2L7.2 1.8" stroke="#4b5763" stroke-width="1"/><path d="M4.8 0.9H8.1V4.2Z M0.9 4.8V8.1H4.2Z" fill="#4b5763"/></svg></div>
<div class="tabs" style="left:367.8px;top:222.5px;width:189.9px"><div class="tab act" style="left:0;width:63.2px">Eyeglass</div><div class="tab" style="left:63.2px;width:63.3px">CL</div><div class="tab" style="left:126.5px;width:61.4px">Med</div></div>
<div class="abs" style="left:367.8px;top:245px;width:178.8px;height:131px;overflow:hidden"><div class="abs" style="left:0;top:0.00px;width:178.8px;height:33.45px;background:#f9f9f9;border-top:1px solid #dedede"></div><div class="abs tx" style="left:3px;top:6.30px">06/02/2016</div><div class="abs tx" style="left:3px;top:19.30px">Active</div><div class="abs tx" style="left:96px;top:6.30px">-6.75</div><div class="abs tx" style="left:96px;top:19.30px">-6.75</div><div class="abs" style="left:0;top:33.45px;width:178.8px;height:33.45px;background:#fff;border-top:1px solid #dedede"></div><div class="abs tx" style="left:3px;top:39.75px">05/24/2016</div><div class="abs tx" style="left:3px;top:52.75px">Active</div><div class="abs tx" style="left:96px;top:39.75px">-6.75</div><div class="abs tx" style="left:96px;top:52.75px">-6.75</div><div class="abs" style="left:0;top:66.90px;width:178.8px;height:33.45px;background:#f9f9f9;border-top:1px solid #dedede"></div><div class="abs tx" style="left:3px;top:73.20px">05/12/2016</div><div class="abs tx" style="left:3px;top:86.20px">Active</div><div class="abs tx" style="left:96px;top:73.20px">-6.75</div><div class="abs tx" style="left:96px;top:86.20px">-6.75</div><div class="abs" style="left:0;top:100.35px;width:178.8px;height:33.45px;background:#fff;border-top:1px solid #dedede"></div><div class="abs tx" style="left:3px;top:106.65px">05/05/2016</div><div class="abs tx" style="left:3px;top:119.65px">Active</div><div class="abs tx" style="left:96px;top:106.65px">-6.75</div><div class="abs tx" style="left:96px;top:119.65px">-6.75</div></div>
<div class="abs" style="left:555.5px;top:245px;width:1px;height:131px;background:#ececec"></div>
<div class="abs" style="left:557.8px;top:240px;width:5.2px;height:21px;border-radius:2.6px;background:#c6c6c6"></div>
<div class="panel" style="left:572.8px;top:193px;width:205.6px;height:189.5px"><div class="ph"></div></div>
<svg class="abs" style="left:580px;top:199.7px" width="9" height="9.2" viewBox="0 0 9 9"><path d="M1.9 2.6A3.6 3.6 0 1 1 1.2 5.8" fill="none" stroke="#2c6f98" stroke-width="1.4"/><path d="M0 1L3.2 0.8L2.6 4Z" fill="#2c6f98"/><path d="M4.5 2.8V4.7L5.8 5.6" fill="none" stroke="#2c6f98" stroke-width="1"/></svg>
<div class="pt" style="left:591.2px;top:198.3px">Exam History</div>
<div class="hb" style="left:734.9px;top:196px"><svg class="abs" style="left:4.5px;top:4.2px" width="7.5" height="7.5" viewBox="0 0 7.5 7.5"><path d="M3.75 0V7.5M0 3.75H7.5" stroke="#4b5763" stroke-width="1.7"/></svg></div>
<div class="hb" style="left:753.9px;top:196px"><svg class="abs" style="left:4px;top:3.5px" width="9" height="9" viewBox="0 0 9 9"><path d="M1.8 7.2L7.2 1.8" stroke="#4b5763" stroke-width="1"/><path d="M4.8 0.9H8.1V4.2Z M0.9 4.8V8.1H4.2Z" fill="#4b5763"/></svg></div>
<div class="tabs" style="left:580.2px;top:222.5px;width:189.5px"><div class="tab act" style="left:0;width:95.7px">Last / Next</div><div class="tab" style="left:95.7px;width:92px">Recent</div></div>
<div class="abs" style="left:580.2px;top:245.4px;width:190px;height:45.8px;background:#f8f8f8;border-top:1px solid #dedede;border-bottom:1px solid #dedede"></div>
<div class="abs tx b" style="left:584px;top:252px">Last</div><div class="abs tx b" style="left:584px;top:265.5px">Exam</div>
<div class="abs tx" style="left:636.7px;top:252px">06/02/2016</div>
<div class="abs tx lk" style="left:636.7px;top:264.2px">Comprehensive Encounter</div>
<svg class="abs" style="left:749.3px;top:265px" width="7.6" height="7.6" viewBox="0 0 8 8"><circle cx="4" cy="4" r="4" fill="#1f3a6e"/><circle cx="4" cy="2" r="0.9" fill="#fff"/><path d="M3 3.4H4.6V6.2H5.2V6.8H2.8V6.2H3.4V4H3Z" fill="#fff"/></svg>
<div class="abs" style="left:636.3px;top:277.7px;width:7.4px;height:7.4px;border-radius:50%;background:#c66fe6"></div><div class="abs tx" style="left:647px;top:277px">Dr. Leigh Starr</div>
<div class="abs tx b" style="left:584px;top:298.2px">Next Appt</div>
<div class="abs tx lk" style="left:636.7px;top:297.6px">Friday 06/03/2016 at 10:00 AM</div>
<div class="abs tx" style="left:636.7px;top:310.3px">Comprehensive Encounter</div>
<div class="abs" style="left:636.3px;top:323.3px;width:7.4px;height:7.4px;border-radius:50%;background:#c66fe6"></div><div class="abs tx" style="left:647px;top:322.6px">Dr. Leigh Starr</div>
<div class="abs tx" style="left:636.7px;top:335.7px">Starr Eye Care</div>
<div class="panel" style="left:785.8px;top:193px;width:205.5px;height:189.5px"><div class="ph"></div></div>
<svg class="abs" style="left:793px;top:200.6px" width="11.6" height="7.5" viewBox="0 0 12 8"><rect x="0.7" y="0.7" width="10.6" height="6.6" fill="none" stroke="#2c6f98" stroke-width="1.3"/><ellipse cx="6" cy="4" rx="2.4" ry="2.2" fill="#2c6f98"/><rect x="2" y="2" width="1.2" height="4" fill="#2c6f98"/><rect x="8.8" y="2" width="1.2" height="4" fill="#2c6f98"/></svg>
<div class="pt" style="left:806.9000000000001px;top:198.3px">Account</div>
<div class="hb" style="left:966.8px;top:196px"><svg class="abs" style="left:4px;top:3.5px" width="9" height="9" viewBox="0 0 9 9"><path d="M1.8 7.2L7.2 1.8" stroke="#4b5763" stroke-width="1"/><path d="M4.8 0.9H8.1V4.2Z M0.9 4.8V8.1H4.2Z" fill="#4b5763"/></svg></div>
<div class="abs" style="left:793.4px;top:222.50px;width:190.6px;height:21.45px;background:#f8f8f8;border-top:1px solid #e2e2e2"></div><div class="abs tx b" style="left:796.6px;top:229.10px">Patient Balance</div><div class="abs tx r" style="right:44.2px;top:228.10px">$1,696.00</div>
<div class="abs" style="left:793.4px;top:243.95px;width:190.6px;height:21.45px;background:#fff;border-top:1px solid #e2e2e2"></div><div class="abs tx b" style="left:796.6px;top:250.55px">Patient Credit</div><div class="abs tx r" style="right:44.2px;top:249.55px">$0.00</div>
<div class="abs" style="left:793.4px;top:265.40px;width:190.6px;height:21.45px;background:#f8f8f8;border-top:1px solid #e2e2e2"></div><div class="abs tx b" style="left:796.6px;top:272.00px">Insurance Balance</div><div class="abs tx r" style="right:44.2px;top:271.00px">$2,295.00</div>
<div class="abs" style="left:793.4px;top:286.85px;width:190.6px;height:21.45px;background:#fff;border-top:1px solid #e2e2e2"></div><div class="abs tx b" style="left:796.6px;top:293.45px">Family Balance</div><div class="abs tx r" style="right:44.2px;top:292.45px">$1,756.00</div>
<div class="abs" style="left:793.4px;top:308.30px;width:190.6px;height:21.45px;background:#f8f8f8;border-top:1px solid #e2e2e2"></div><div class="abs tx b" style="left:796.6px;top:314.90px">Family Credit</div><div class="abs tx r" style="right:44.2px;top:313.90px">$0.00</div>
<div class="panel" style="left:146px;top:390.3px;width:206.5px;height:190.8px"><div class="ph"></div></div>
<svg class="abs" style="left:154.4px;top:397.5px" width="9" height="9" viewBox="0 0 9 9"><path d="M0 0H9V6.2L6.2 9H0Z" fill="#2c6f98"/><path d="M6.5 9V6.5H9" fill="#d2e2ee"/></svg>
<div class="pt" style="left:165.5px;top:395.6px">Notes</div>
<div class="hb" style="left:309.0px;top:393.3px"><svg class="abs" style="left:4.5px;top:4.2px" width="7.5" height="7.5" viewBox="0 0 7.5 7.5"><path d="M3.75 0V7.5M0 3.75H7.5" stroke="#4b5763" stroke-width="1.7"/></svg></div>
<div class="hb" style="left:328.0px;top:393.3px"><svg class="abs" style="left:4px;top:3.5px" width="9" height="9" viewBox="0 0 9 9"><path d="M1.8 7.2L7.2 1.8" stroke="#4b5763" stroke-width="1"/><path d="M4.8 0.9H8.1V4.2Z M0.9 4.8V8.1H4.2Z" fill="#4b5763"/></svg></div>
<div class="abs" style="left:154.4px;top:420.20px;width:189.3px;height:20.6px;background:#f8f8f8;border-top:1px solid #e2e2e2"></div><div class="abs tx" style="left:157.6px;top:426.40px">04/16/2016</div><div class="abs tx" style="left:213px;top:426.40px">Task #11358 completed. Tas...</div>
<div class="abs" style="left:154.4px;top:440.80px;width:189.3px;height:20.6px;background:#fff;border-top:1px solid #e2e2e2"></div><div class="abs tx" style="left:157.6px;top:447.00px">03/22/2016</div><div class="abs tx" style="left:213px;top:447.00px">Task #11289 completed. Tas...</div>
<div class="abs" style="left:154.4px;top:461.40px;width:189.3px;height:20.6px;background:#f8f8f8;border-top:1px solid #e2e2e2"></div><div class="abs tx" style="left:157.6px;top:467.60px">03/02/2016</div><div class="abs tx" style="left:213px;top:467.60px">Collect PT Balance</div>
<div class="abs" style="left:154.4px;top:482.00px;width:189.3px;height:20.6px;background:#fff;border-top:1px solid #e2e2e2"></div><div class="abs tx" style="left:157.6px;top:488.20px">03/02/2016</div><div class="abs tx" style="left:213px;top:488.20px">New on EHR</div>
<div class="panel" style="left:359.8px;top:390.3px;width:205.7px;height:190.8px"><div class="ph"></div></div>
<svg class="abs" style="left:367.5px;top:396.5px" width="8" height="10" viewBox="0 0 8 10"><path d="M0.3 0.5H7.7V4.5Q7.7 7.8 4 9.7Q0.3 7.8 0.3 4.5Z" fill="#2c6f98"/><path d="M4 1.6H6.6V4.5Q6.6 7 4 8.4Z" fill="#d2e2ee"/></svg>
<div class="pt" style="left:376.7px;top:395.6px">Insurance</div>
<div class="hb" style="left:522.0px;top:393.3px"><svg class="abs" style="left:4.5px;top:4.2px" width="7.5" height="7.5" viewBox="0 0 7.5 7.5"><path d="M3.75 0V7.5M0 3.75H7.5" stroke="#4b5763" stroke-width="1.7"/></svg></div>
<div class="hb" style="left:541.0px;top:393.3px"><svg class="abs" style="left:4px;top:3.5px" width="9" height="9" viewBox="0 0 9 9"><path d="M1.8 7.2L7.2 1.8" stroke="#4b5763" stroke-width="1"/><path d="M4.8 0.9H8.1V4.2Z M0.9 4.8V8.1H4.2Z" fill="#4b5763"/></svg></div>
<div class="abs" style="left:367.8px;top:420.2px;width:178.8px;height:156px;overflow:hidden"><div class="abs" style="left:0;top:0.00px;width:178.8px;height:45.80px;background:#f8f8f8;border-top:1px solid #e2e2e2"></div><div class="abs tx b" style="left:3.2px;top:6.80px">Blue Cross Blue</div><div class="abs tx b" style="left:3.2px;top:19.60px">Shield</div><div class="abs tx" style="left:89.7px;top:5.80px">Policy# 89765432</div><div class="abs tx" style="left:89.7px;top:18.40px">Primary - Medical &amp;</div><div class="abs tx" style="left:89.7px;top:31.00px">Vision</div><div class="abs" style="left:0;top:45.80px;width:178.8px;height:34.30px;background:#fff;border-top:1px solid #e2e2e2"></div><div class="abs tx b" style="left:3.2px;top:52.60px">Medicare</div><div class="abs tx" style="left:89.7px;top:51.60px">Policy# 78965432</div><div class="abs tx" style="left:89.7px;top:64.20px">Primary - Medical</div><div class="abs" style="left:0;top:80.10px;width:178.8px;height:33.00px;background:#f8f8f8;border-top:1px solid #e2e2e2"></div><div class="abs tx b" style="left:3.2px;top:86.90px">VSP</div><div class="abs tx" style="left:89.7px;top:85.90px">Policy# 567894</div><div class="abs tx" style="left:89.7px;top:98.50px">Primary - Vision</div><div class="abs" style="left:0;top:113.10px;width:178.8px;height:45.00px;background:#fff;border-top:1px solid #e2e2e2"></div><div class="abs tx b" style="left:3.2px;top:119.90px">EYE MED</div><div class="abs tx" style="left:89.7px;top:118.90px">Policy# 9878906</div><div class="abs tx" style="left:89.7px;top:131.50px">Primary - Medical &amp;</div><div class="abs tx" style="left:89.7px;top:144.10px">Vision</div></div>
<div class="abs" style="left:555.5px;top:420px;width:1px;height:156px;background:#ececec"></div>
<div class="abs" style="left:557.8px;top:415.4px;width:5.2px;height:142.5px;border-radius:2.6px;background:#c6c6c6"></div>
<div class="panel" style="left:572.8px;top:390.3px;width:205.6px;height:190.8px"><div class="ph"></div></div>
<svg class="abs" style="left:580.3px;top:399px" width="12" height="8" viewBox="0 0 12 8"><path d="M0.2 4Q6 -3 11.8 4Q6 11 0.2 4Z M6 1.5A2.5 2.5 0 1 0 6 6.5A2.5 2.5 0 1 0 6 1.5Z" fill="#2c6f98" fill-rule="evenodd"/><circle cx="6" cy="4" r="1.4" fill="#2c6f98"/></svg>
<div class="pt" style="left:592.7px;top:395.6px">Diagnosis History</div>
<div class="hb" style="left:753.9px;top:393.3px"><svg class="abs" style="left:4px;top:3.5px" width="9" height="9" viewBox="0 0 9 9"><path d="M1.8 7.2L7.2 1.8" stroke="#4b5763" stroke-width="1"/><path d="M4.8 0.9H8.1V4.2Z M0.9 4.8V8.1H4.2Z" fill="#4b5763"/></svg></div>
<div class="abs" style="left:580.2px;top:420.20px;width:190.2px;height:20.6px;background:#f8f8f8;border-top:1px solid #e2e2e2"></div><div class="abs icd" style="left:584px;top:425.80px">ICD-10</div><div class="abs tx" style="left:616px;top:426.40px">H04.123</div><div class="abs tx" style="left:665.7px;top:426.40px">Dry eye syndrome of b...</div>
<div class="abs" style="left:580.2px;top:440.80px;width:190.2px;height:20.6px;background:#fff;border-top:1px solid #e2e2e2"></div><div class="abs icd" style="left:584px;top:446.40px">ICD-10</div><div class="abs tx" style="left:616px;top:447.00px">H40.43X0</div><div class="abs tx" style="left:665.7px;top:447.00px">Glaucoma secondary ...</div>
<div class="abs" style="left:580.2px;top:461.40px;width:190.2px;height:20.6px;background:#f8f8f8;border-top:1px solid #e2e2e2"></div><div class="abs icd" style="left:584px;top:467.00px">ICD-10</div><div class="abs tx" style="left:616px;top:467.60px">H52.13</div><div class="abs tx" style="left:665.7px;top:467.60px">Myopia, bilateral</div>
<div class="abs" style="left:580.2px;top:482.00px;width:190.2px;height:20.6px;background:#fff;border-top:1px solid #e2e2e2"></div><div class="abs icd" style="left:584px;top:487.60px">ICD-10</div><div class="abs tx" style="left:616px;top:488.20px">H40.003</div><div class="abs tx" style="left:665.7px;top:488.20px">Preglaucoma, unspeci...</div>
<div class="abs" style="left:580.2px;top:502.60px;width:190.2px;height:20.6px;background:#f8f8f8;border-top:1px solid #e2e2e2"></div><div class="abs icd" style="left:584px;top:508.20px">ICD-10</div><div class="abs tx" style="left:616px;top:508.80px">H11.003</div><div class="abs tx" style="left:665.7px;top:508.80px">Unspecified pterygium...</div>
<div class="abs" style="left:580.2px;top:523.20px;width:190.2px;height:20.6px;background:#fff;border-top:1px solid #e2e2e2"></div><div class="abs icd" style="left:584px;top:528.80px">ICD-10</div><div class="abs tx" style="left:616px;top:529.40px">H26.9</div><div class="abs tx" style="left:665.7px;top:529.40px">Unspecified cataract</div>
<div class="panel" style="left:785.8px;top:390.3px;width:205.5px;height:190.8px"><div class="ph"></div></div>
<svg class="abs" style="left:793px;top:396.5px" width="10" height="10" viewBox="0 0 10 10"><rect x="0.5" y="1.6" width="9" height="7.9" fill="none" stroke="#2c6f98" stroke-width="1"/><rect x="0.5" y="1.6" width="9" height="1.8" fill="#2c6f98"/><rect x="2.2" y="0" width="1.1" height="2.2" fill="#2c6f98"/><rect x="6.7" y="0" width="1.1" height="2.2" fill="#2c6f98"/><path d="M5 4.8V8.4M3.2 6.6H6.8" stroke="#2c6f98" stroke-width="1"/></svg>
<div class="pt" style="left:805.7px;top:395.6px">Recall</div>
<div class="hb" style="left:966.8px;top:393.3px"><svg class="abs" style="left:4px;top:3.5px" width="9" height="9" viewBox="0 0 9 9"><path d="M1.8 7.2L7.2 1.8" stroke="#4b5763" stroke-width="1"/><path d="M4.8 0.9H8.1V4.2Z M0.9 4.8V8.1H4.2Z" fill="#4b5763"/></svg></div>
<div class="abs" style="left:793.4px;top:420.20px;width:190.6px;height:20.8px;background:#f8f8f8;border-top:1px solid #e2e2e2"></div><div class="abs tx" style="left:796.6px;top:426.40px">08/02/2016</div><div class="abs tx" style="left:856.2px;top:426.40px">Glaucoma Encounter w/VF</div>
<div class="abs" style="left:793.4px;top:441.00px;width:190.6px;height:20.8px;background:#fff;border-top:1px solid #e2e2e2"></div><div class="abs tx" style="left:796.6px;top:447.20px">06/02/2017</div><div class="abs tx" style="left:856.2px;top:447.20px">Comprehensive Encounter</div>
<div class="abs" style="left:793.4px;top:461.8px;width:190.6px;height:1px;background:#e2e2e2"></div>
<div class="panel" style="left:146px;top:588.5px;width:206.5px;height:60px"><div class="ph"></div></div>
<svg class="abs" style="left:154.5px;top:596.5px" width="9.6" height="8" viewBox="0 0 11 9" fill="#2c6f98"><path d="M0 0.3H2.2L2.8 1.7H10.8L9.9 5.5H3.6L4 6.4H9.8V7.2H3.3L1.6 1.2H0Z"/><circle cx="4.1" cy="8.3" r="0.8"/><circle cx="8.8" cy="8.3" r="0.8"/><path d="M6.8 2V5.2M5.2 3.6H8.4" stroke="#d2e2ee" stroke-width="0.9"/></svg>
<div class="pt" style="left:166.7px;top:593.8px;transform:scaleX(.96);transform-origin:0 0">Orders - Medical</div>
<div class="hb" style="left:309.0px;top:591.5px"><svg class="abs" style="left:4.5px;top:4.2px" width="7.5" height="7.5" viewBox="0 0 7.5 7.5"><path d="M3.75 0V7.5M0 3.75H7.5" stroke="#4b5763" stroke-width="1.7"/></svg></div>
<div class="hb" style="left:328.0px;top:591.5px"><svg class="abs" style="left:4px;top:3.5px" width="9" height="9" viewBox="0 0 9 9"><path d="M1.8 7.2L7.2 1.8" stroke="#4b5763" stroke-width="1"/><path d="M4.8 0.9H8.1V4.2Z M0.9 4.8V8.1H4.2Z" fill="#4b5763"/></svg></div>
<div class="panel" style="left:359.8px;top:588.5px;width:205.7px;height:60px"><div class="ph"></div></div>
<svg class="abs" style="left:368px;top:596.5px" width="9.6" height="8" viewBox="0 0 11 9" fill="#2c6f98"><path d="M0 0.3H2.2L2.8 1.7H10.8L9.9 5.5H3.6L4 6.4H9.8V7.2H3.3L1.6 1.2H0Z"/><circle cx="4.1" cy="8.3" r="0.8"/><circle cx="8.8" cy="8.3" r="0.8"/></svg>
<div class="pt" style="left:379.2px;top:593.8px;transform:scaleX(.96);transform-origin:0 0">Orders - Optical</div>
<div class="hb" style="left:522.0px;top:591.5px"><svg class="abs" style="left:4.5px;top:4.2px" width="7.5" height="7.5" viewBox="0 0 7.5 7.5"><path d="M3.75 0V7.5M0 3.75H7.5" stroke="#4b5763" stroke-width="1.7"/></svg></div>
<div class="hb" style="left:541.0px;top:591.5px"><svg class="abs" style="left:4px;top:3.5px" width="9" height="9" viewBox="0 0 9 9"><path d="M1.8 7.2L7.2 1.8" stroke="#4b5763" stroke-width="1"/><path d="M4.8 0.9H8.1V4.2Z M0.9 4.8V8.1H4.2Z" fill="#4b5763"/></svg></div>
<div id="footer" class="abs">
  <div class="abs" style="left:11px;top:9.5px;font-size:8.3px;color:#333;white-space:nowrap">Thu <b>Jun 2</b> 2016 &nbsp;|&nbsp; <b>5:02 pm</b></div>
  <div class="abs" style="left:122px;top:9.5px;font-size:8.45px;color:#333;white-space:nowrap">Version 6.2.15 - 04/29/2016</div>
</div>
</body></html>
